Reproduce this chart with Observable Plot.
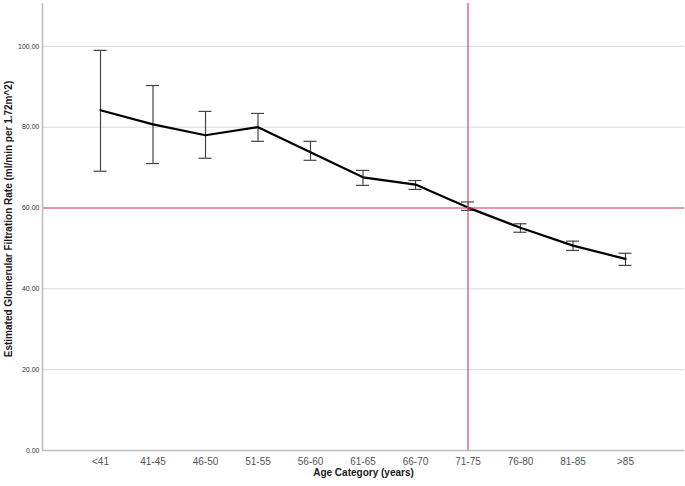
<!DOCTYPE html>
<html>
<head>
<meta charset="utf-8">
<script src="https://cdn.jsdelivr.net/npm/d3@7"></script>
<script src="https://cdn.jsdelivr.net/npm/@observablehq/plot@0.6"></script>
<style>
  html, body { margin: 0; padding: 0; background: #fff; }
  #chart svg { display: block; }
</style>
</head>
<body>
<div id="chart"></div>
<script>
const categories = ["<41","41-45","46-50","51-55","56-60","61-65","66-70","71-75","76-80","81-85",">85"];
const means = [84.2, 80.7, 78.0, 80.0, 73.8, 67.6, 65.8, 60.1, 55.1, 50.7, 47.4];
const upper = [99.0, 90.3, 83.9, 83.4, 76.5, 69.3, 66.8, 61.5, 56.1, 51.8, 48.8];
const lower = [69.1, 71.0, 72.3, 76.5, 71.8, 65.6, 64.6, 59.4, 54.0, 49.5, 45.8];
const yTicks = [0, 20, 40, 60, 80, 100];
const refY = 60;
const refX = "71-75";

const capHalf = 0.124; // cap half-width in category steps
const data = categories.map((c, i) => ({i, cat: c, mean: means[i], hi: upper[i], lo: lower[i]}));
const idx = categories.map((c, i) => i);

const chart = Plot.plot({
  width: 685,
  height: 486,
  marginLeft: 42,
  marginRight: 1,
  marginTop: 3,
  marginBottom: 36,
  style: {fontFamily: "Liberation Sans, Arial, sans-serif", background: "#fff"},
  x: {type: "linear", domain: [-1.105, categories.length - 1 + 1.124], label: null},
  y: {domain: [0, 110.6], label: null},
  marks: [
    Plot.ruleY(yTicks.filter(d => d > 0), {stroke: "#d9d9d9", strokeWidth: 1}),
    Plot.axisY(yTicks, {tickSize: 0, tickPadding: 3, tickFormat: d => d.toFixed(2), fontSize: 7, fill: "#333",
      label: "Estimated Glomerular Filtration Rate (ml/min per 1.72m^2)", labelAnchor: "center", labelArrow: "none", labelOffset: 38}),
    Plot.axisX(idx, {tickSize: 0, tickPadding: 7, fontSize: 10, fill: "#555", tickFormat: i => categories[i],
      label: "Age Category (years)", labelAnchor: "center", labelArrow: "none", labelOffset: 25}),
    Plot.ruleX(data, {x: "i", y1: "lo", y2: "hi", stroke: "#444", strokeWidth: 1.2}),
    Plot.ruleY(data, {y: "hi", x1: d => d.i - capHalf, x2: d => d.i + capHalf, stroke: "#444", strokeWidth: 1.2}),
    Plot.ruleY(data, {y: "lo", x1: d => d.i - capHalf, x2: d => d.i + capHalf, stroke: "#444", strokeWidth: 1.2}),
    Plot.line(data, {x: "i", y: "mean", stroke: "#000", strokeWidth: 2.2}),
    Plot.ruleY([refY], {stroke: "#d9436b", strokeWidth: 1.2}),
    Plot.ruleX([categories.indexOf(refX)], {stroke: "#d9436b", strokeWidth: 1.2}),
    Plot.ruleX([-1.105], {stroke: "#bdbdbd", strokeWidth: 1.6}),
    Plot.ruleY([0], {stroke: "#bdbdbd", strokeWidth: 1.6})
  ]
});

chart.querySelectorAll("[aria-label$='axis label']").forEach(el => {
  el.setAttribute("font-weight", "bold");
  el.setAttribute("font-size", "10");
  el.setAttribute("fill", "#1a1a1a");
});
const yLabel = chart.querySelector("[aria-label='y-axis label'] text");
if (yLabel) {
  const t = yLabel.getAttribute("transform") || "";
  yLabel.setAttribute("transform", t + " translate(8,0)");
}
document.getElementById("chart").appendChild(chart);
</script>
</body>
</html>
